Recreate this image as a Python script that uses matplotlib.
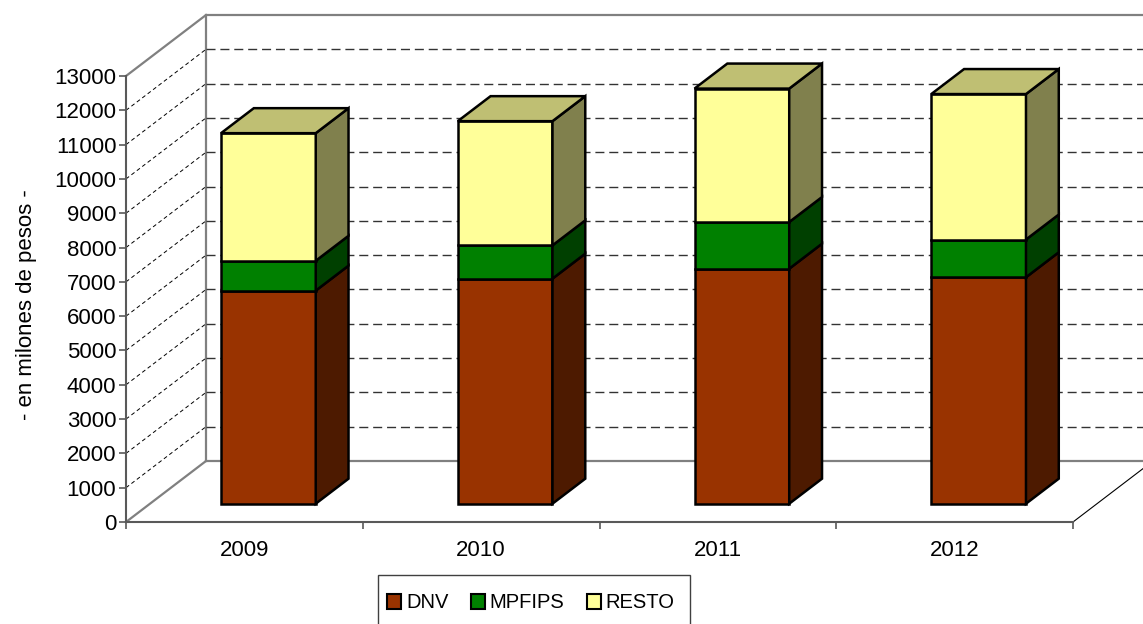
import matplotlib
matplotlib.use('Agg')
import matplotlib.pyplot as plt
from matplotlib.patches import Polygon, Patch, Rectangle
import numpy as np

years = ['2009', '2010', '2011', '2012']
dnv = [6210, 6560, 6850, 6600]
mpfips = [870, 970, 1360, 1100]
resto = [3720, 3620, 3890, 4240]

series = ['DNV', 'MPFIPS', 'RESTO']
front_colors = ['#993300', '#008000', '#ffff99']
side_colors = ['#4d1a00', '#004000', '#80804d']
top_colors = ['#732600', '#006000', '#bfbf73']

plt.rcParams['font.family'] = ['Liberation Sans', 'DejaVu Sans']
plt.rcParams['font.size'] = 16

W, H = 1143, 624
fig = plt.figure(figsize=(W / 100, H / 100), dpi=100)
# front plane of the 3d box, in pixels
x_left, x_right, y_bottom, y_top = 126, 1073, 522, 76
ax = fig.add_axes([x_left / W, 1 - y_bottom / H,
                   (x_right - x_left) / W, (y_bottom - y_top) / H])
ymax = 13000
ax.set_xlim(-0.5, 3.5)
ax.set_ylim(0, ymax)

# depth of the box in data units (80 px right, 61 px up)
DX = 80 / ((x_right - x_left) / 4)
DY = 61 / (y_bottom - y_top) * ymax

grey = '#808080'
# walls and floor
ax.plot([-0.5 + DX, -0.5 + DX, 3.5 + DX], [DY, ymax + DY, ymax + DY],
        color=grey, lw=1.6, clip_on=False, zorder=1, solid_joinstyle='miter')
ax.plot([-0.5 + DX, 3.5 + DX], [DY, DY], color=grey, lw=1.6, clip_on=False, zorder=1)
ax.plot([-0.5, -0.5 + DX], [ymax, ymax + DY], color=grey, lw=1.6, clip_on=False, zorder=1)
ax.plot([-0.5, -0.5 + DX], [0, DY], color=grey, lw=1.6, clip_on=False, zorder=1)
ax.plot([3.5, 3.5 + DX], [0, DY], color='black', lw=0.8, clip_on=False, zorder=1)

for v in range(1000, ymax, 1000):
    ax.plot([-0.5 + DX, 3.5 + DX], [v + DY, v + DY], color='#333333', lw=1.0,
            dashes=(6.5, 3.5), clip_on=False, zorder=1)
    ax.plot([-0.5, -0.5 + DX], [v, v + DY], color='black', lw=0.7,
            dashes=(4, 3), clip_on=False, zorder=1)

# bars
d0, d1 = 0.3, 0.71
half = 0.2
for i in range(len(years)):
    bottom = 0
    vals = [dnv[i], mpfips[i], resto[i]]
    for k, v in enumerate(vals):
        top = bottom + v
        x0 = i - half + d0 * DX
        x1 = i + half + d0 * DX
        yb = bottom + d0 * DY
        yt = top + d0 * DY
        ddx = (d1 - d0) * DX
        ddy = (d1 - d0) * DY
        style = dict(edgecolor='black', lw=1.8, joinstyle='miter',
                     clip_on=False, zorder=3)
        ax.add_patch(Polygon([(x0, yb), (x1, yb), (x1, yt), (x0, yt)],
                             facecolor=front_colors[k], **style))
        ax.add_patch(Polygon([(x1, yb), (x1 + ddx, yb + ddy),
                              (x1 + ddx, yt + ddy), (x1, yt)],
                             facecolor=side_colors[k], **style))
        if k == len(vals) - 1:
            ax.add_patch(Polygon([(x0, yt), (x1, yt), (x1 + ddx, yt + ddy),
                                  (x0 + ddx, yt + ddy)],
                                 facecolor=top_colors[k], **style))
        bottom = top

# axes
for s in ['top', 'right']:
    ax.spines[s].set_visible(False)
for s in ['left', 'bottom']:
    ax.spines[s].set_color('#595959')
    ax.spines[s].set_linewidth(1.5)
ax.set_yticks(range(0, ymax + 1, 1000))
ax.tick_params(axis='y', length=5, width=1.2, color='#595959', pad=2)
ax.set_xticks(np.arange(-0.5, 4, 1))
ax.set_xticklabels([])
ax.set_xticks(range(4), minor=True)
ax.set_xticklabels(years, minor=True)
ax.tick_params(axis='x', which='major', length=5, width=1.2, color='#595959')
ax.tick_params(axis='x', which='minor', length=0, pad=13)
ax.set_facecolor('none')

fig.text(27 / W, 1 - 305 / H, '- en milones de pesos -', rotation=90,
         ha='center', va='center')

# legend box
fig.add_artist(Rectangle((378 / W, 1 - 640 / H), (690 - 378) / W, 65 / H,
                         transform=fig.transFigure, facecolor='white',
                         edgecolor='#404040', lw=1.0, zorder=4))
handles = [Patch(facecolor=c, edgecolor='black', lw=1.5) for c in front_colors]
leg = fig.legend(handles, series, loc='center left', ncol=3,
                 bbox_to_anchor=(387 / W, 1 - 603 / H), borderaxespad=0,
                 frameon=False, handlelength=0.7, fontsize=14.5,
                 handleheight=0.7, handletextpad=0.25, columnspacing=1.1,
                 borderpad=0)
leg.set_zorder(5)

fig.savefig('out.png', dpi=100)
